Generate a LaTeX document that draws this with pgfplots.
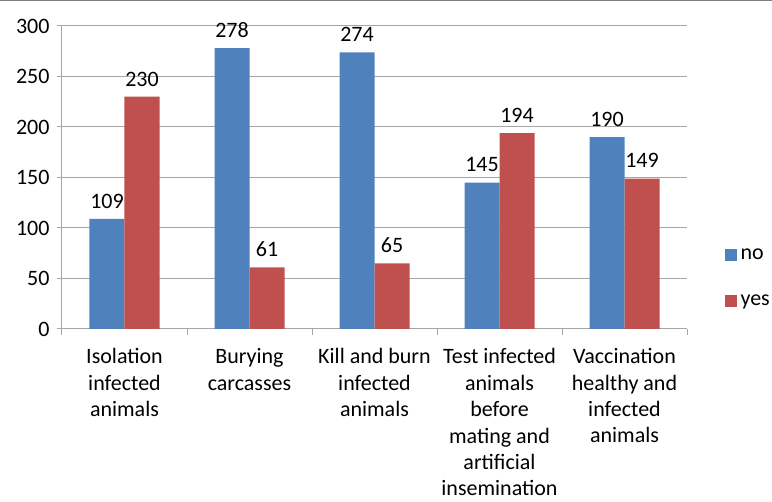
\documentclass[border=0pt]{standalone}
\usepackage{pgfplots}
\pgfplotsset{compat=1.18}
\usepackage{fontspec}
\setmainfont{Carlito}
\definecolor{barno}{HTML}{4F81BD}
\definecolor{baryes}{HTML}{C0504D}
\definecolor{axgray}{HTML}{A6A6A6}
\newcommand{\lbl}{\fontsize{22}{26.4}\selectfont}
\begin{document}
\begin{tikzpicture}[x=1pt,y=1pt]
\path[use as bounding box] (0,0) rectangle (772,-502);
\draw[line width=1.5pt, color=gray] (0,-0.75) -- (772,-0.75);
\begin{axis}[
  at={(62pt,-329pt)}, anchor=south west,
  width=625pt, height=303pt, scale only axis,
  ybar=0pt, bar width=35pt,
  ymin=0, ymax=300, xmin=-0.5, xmax=4.5,
  ytick={0,50,...,300},
  xtick={0,...,4},
  minor xtick={-0.5,0.5,...,4.5},
  major x tick style={draw=none},
  xticklabels={{Isolation\\infected\\animals}, {Burying\\carcasses}, {Kill and burn\\infected\\animals}, {Test infected\\animals\\before\\mating and\\artificial\\insemination}, {Vaccination\\healthy and\\infected\\animals}},
  x tick label style={font=\lbl, align=center, yshift=-11pt},
  y tick label style={font=\lbl, xshift=-4pt},
  /pgf/number format/assume math mode=true,
  axis x line*=bottom, axis y line*=left,
  axis line style={axgray, line width=1pt},
  tick style={axgray, line width=1pt},
  tick align=outside,
  major tick length=5pt, minor tick length=6pt,
  ymajorgrids, grid style={axgray, line width=1pt},
  nodes near coords,
  every node near coord/.append style={font=\lbl, yshift=7pt},
  legend style={at={(axis description cs:1.055,0.168)}, anchor=west, draw=none, fill=none, font=\lbl, row sep=30pt},
  legend cell align=left,
  legend image code/.code={\fill (0pt,-6pt) rectangle (12pt,6pt);},
  legend style={nodes={inner xsep=4pt}},
]
\addplot[fill=barno, draw=none] coordinates {(0,109) (1,278) (2,274) (3,145) (4,190)};
\addplot[fill=baryes, draw=none] coordinates {(0,230) (1,61) (2,65) (3,194) (4,149)};
\legend{no, yes}
\end{axis}
\end{tikzpicture}
\end{document}
